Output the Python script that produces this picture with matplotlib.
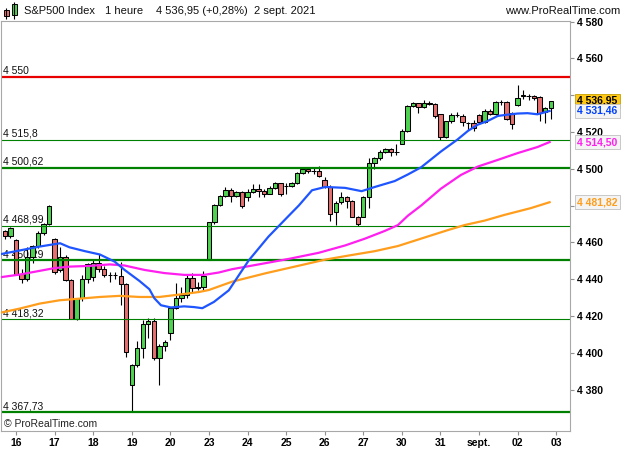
import matplotlib
matplotlib.use("Agg")
import matplotlib.pyplot as plt
from matplotlib.patches import Rectangle
import matplotlib.transforms as mtransforms
import numpy as np

plt.rcParams['font.family'] = ['Liberation Sans', 'DejaVu Sans']

# hourly candles, 13 Aug (last 2 bars) -> 2 Sept 2021, 7 bars a day
opens = [4466.3, 4463.4,
         4461.5, 4443.0, 4440.0, 4452.0, 4457.8, 4465.0, 4470.0,
         4461.8, 4445.0, 4452.0, 4439.3, 4418.5, 4429.5, 4439.8,
         4441.0, 4449.0, 4445.5, 4442.3, 4442.0, 4441.7, 4437.2,
         4382.4, 4393.5, 4402.7, 4415.8, 4417.2, 4397.3, 4403.9,
         4410.6, 4424.2, 4429.6, 4431.4, 4440.4, 4435.0, 4435.5,
         4450.3, 4470.8, 4480.2, 4485.1, 4488.7, 4485.1, 4487.4,
         4484.4, 4487.4, 4489.2, 4488.0, 4486.5, 4489.8, 4492.0,
         4490.5, 4490.8, 4492.0, 4497.7, 4499.9, 4498.5, 4498.6,
         4493.8, 4490.1, 4476.4, 4481.9, 4484.4, 4482.2, 4474.0,
         4473.6, 4484.6, 4503.0, 4505.8, 4509.1, 4510.9, 4509.1,
         4513.7, 4520.7, 4534.2, 4535.7, 4533.5, 4536.0, 4535.3,
         4529.6, 4517.2, 4525.7, 4529.4, 4528.8, 4525.0, 4524.8,
         4529.0, 4525.5, 4531.6, 4529.6, 4536.2, 4536.4, 4530.5,
         4534.5, 4539.6, 4539.6, 4539.6, 4539.0, 4531.1, 4532.9]
highs = [4466.8, 4468.2,
         4462.0, 4445.5, 4457.2, 4458.5, 4466.0, 4470.5, 4480.3,
         4462.1, 4457.6, 4453.0, 4440.0, 4430.0, 4442.0, 4449.0,
         4451.0, 4453.5, 4447.0, 4444.0, 4444.0, 4449.4, 4438.0,
         4394.0, 4406.6, 4418.0, 4418.8, 4418.6, 4404.5, 4407.0,
         4425.0, 4438.0, 4435.9, 4442.0, 4443.5, 4438.6, 4444.3,
         4471.2, 4480.8, 4485.8, 4489.9, 4489.5, 4487.8, 4488.0,
         4489.0, 4491.6, 4491.6, 4488.8, 4490.5, 4492.8, 4492.3,
         4492.0, 4492.8, 4498.3, 4500.3, 4500.5, 4500.2, 4501.7,
         4495.5, 4491.0, 4482.5, 4487.4, 4485.0, 4483.0, 4474.5,
         4485.0, 4505.8, 4506.5, 4510.0, 4511.5, 4511.2, 4513.3,
         4521.5, 4534.5, 4536.4, 4536.0, 4537.4, 4536.6, 4535.8,
         4530.0, 4526.0, 4530.3, 4530.6, 4529.5, 4525.5, 4526.5,
         4530.0, 4532.5, 4532.5, 4537.0, 4537.1, 4536.8, 4530.8,
         4545.6, 4542.7, 4540.5, 4540.0, 4539.3, 4533.5, 4537.0]
lows = [4462.0, 4462.5,
        4442.0, 4437.7, 4439.0, 4449.0, 4457.0, 4464.0, 4469.5,
        4443.0, 4444.0, 4439.0, 4418.3, 4417.8, 4428.0, 4438.0,
        4439.0, 4444.0, 4441.0, 4438.6, 4440.0, 4426.0, 4397.6,
        4367.73, 4392.0, 4397.0, 4408.0, 4396.0, 4382.6, 4401.0,
        4406.8, 4423.5, 4427.3, 4430.0, 4433.0, 4434.1, 4434.0,
        4450.29, 4469.8, 4479.5, 4484.5, 4482.0, 4484.4, 4478.4,
        4482.3, 4486.8, 4484.7, 4484.4, 4486.0, 4489.2, 4485.0,
        4486.0, 4490.0, 4491.5, 4497.0, 4497.8, 4497.3, 4495.5,
        4489.5, 4471.8, 4469.2, 4481.0, 4478.6, 4473.5, 4468.99,
        4473.5, 4478.6, 4499.9, 4505.0, 4508.5, 4506.8, 4507.3,
        4513.6, 4519.8, 4533.5, 4530.3, 4533.0, 4534.8, 4527.5,
        4515.8, 4516.5, 4525.0, 4528.1, 4523.0, 4521.2, 4520.5,
        4524.5, 4525.0, 4529.0, 4529.0, 4534.7, 4526.5, 4521.8,
        4534.0, 4537.8, 4537.3, 4537.5, 4526.0, 4524.7, 4527.0]
closes = [4463.6, 4467.8,
          4442.8, 4440.0, 4452.0, 4457.8, 4465.0, 4470.0, 4479.7,
          4444.0, 4452.0, 4439.3, 4418.5, 4429.5, 4439.8, 4448.0,
          4449.0, 4445.5, 4442.2, 4442.0, 4442.3, 4437.2, 4400.3,
          4393.2, 4402.7, 4415.8, 4417.2, 4397.3, 4403.9, 4405.8,
          4424.2, 4429.6, 4431.4, 4440.4, 4435.0, 4435.5, 4441.5,
          4470.8, 4480.2, 4485.1, 4488.7, 4485.1, 4487.4, 4479.6,
          4487.4, 4489.2, 4488.0, 4486.5, 4489.8, 4492.0, 4486.2,
          4490.8, 4492.3, 4497.7, 4499.9, 4498.5, 4498.7, 4495.9,
          4490.1, 4475.4, 4481.5, 4484.4, 4482.2, 4474.0, 4470.0,
          4484.6, 4503.0, 4505.8, 4509.1, 4510.9, 4509.1, 4509.3,
          4520.7, 4534.2, 4535.7, 4533.5, 4536.0, 4535.3, 4528.5,
          4517.2, 4525.7, 4529.4, 4529.1, 4525.2, 4524.8, 4522.0,
          4525.5, 4531.6, 4529.6, 4536.2, 4536.4, 4527.0, 4524.1,
          4538.7, 4539.6, 4539.4, 4538.4, 4530.5, 4532.9, 4536.95]

day_labels = ['16', '17', '18', '19', '20', '23', '24', '25', '26', '27',
              '30', '31', 'sept.', '02', '03']
bars_per_day = 7
bars_before_first_day = 2

# moving averages (bar index, value)
ma_blue_x = [-0.9, 2.7, 6.3, 10.0, 11.7, 14.5, 17.2, 19.9, 21.7, 24.4, 26.2,
             27.1, 28.3, 30.1, 32.5, 34.3, 35.8, 37.9, 40.6, 44.2, 47.8,
             51.5, 53.3, 55.7, 58.1, 61.7, 64.7, 67.1, 70.7, 73.1, 75.5,
             79.1, 82.1, 84.0, 85.8, 87.6, 89.4, 91.2, 93.0, 94.8, 96.6, 98.8]
ma_blue = [4453.5, 4455.6, 4457.7, 4459.5, 4457.3, 4455.2, 4453.4, 4449.5,
           4445.0, 4439.0, 4434.5, 4429.6, 4425.8, 4424.6, 4425.2, 4424.8,
           4424.2, 4427.6, 4433.9, 4450.1, 4463.1, 4474.5, 4480.0, 4488.3,
           4490.1, 4489.6, 4487.8, 4490.1, 4493.3, 4496.9, 4500.8, 4509.4,
           4515.9, 4520.6, 4524.0, 4526.0, 4528.7, 4529.4, 4530.0, 4530.2,
           4529.6, 4531.4]
ma_magenta_x = [-0.9, 2.7, 6.3, 9.0, 11.75, 15.4, 19.0, 21.7, 25.3, 28.9,
                32.5, 36.1, 38.8, 41.2, 47.3, 51.5, 53.3, 56.9, 61.7, 65.3,
                68.9, 71.3, 73.1, 75.5, 79.1, 82.7, 85.8, 89.4, 93.0, 96.6, 98.8]
ma_magenta = [4441.0, 4442.5, 4444.5, 4446.0, 4446.8, 4447.2, 4448.0, 4447.4,
              4445.0, 4443.3, 4442.3, 4442.3, 4443.6, 4445.4, 4448.7, 4451.0,
              4452.1, 4454.3, 4458.3, 4462.0, 4466.2, 4469.4, 4474.5, 4480.0,
              4489.2, 4496.6, 4501.2, 4504.8, 4508.5, 4511.8, 4514.5]
ma_orange_x = [-0.9, 2.7, 6.3, 9.9, 13.6, 17.2, 20.8, 24.4, 28.0, 31.6, 35.2,
               37.0, 41.2, 47.3, 53.3, 58.1, 62.3, 67.1, 71.3, 76.1, 80.3,
               83.4, 87.0, 90.6, 95.4, 98.8]
ma_orange = [4421.7, 4424.0, 4426.7, 4428.5, 4429.4, 4430.3, 4430.9, 4430.3,
             4430.3, 4431.6, 4433.0, 4434.1, 4438.6, 4443.2, 4447.3, 4450.6,
             4452.8, 4455.2, 4458.0, 4462.6, 4466.6, 4469.4, 4471.8, 4474.9,
             4478.6, 4481.8]
ma_values = {'blue': 4531.46, 'magenta': 4514.50, 'orange': 4481.82}

# support / resistance levels
levels = [4550.0, 4515.8, 4500.62, 4468.99, 4450.29, 4418.32, 4367.73]
level_colors = ['#e80000', '#008000', '#008000', '#008000', '#008000', '#008000', '#008000']
level_thick = [True, False, True, False, True, False, True]

last_price = closes[-1]

GREEN = '#4fd24f'
RED = '#e66f6f'
BLUE = '#1f55ff'
MAGENTA = '#ff1fee'
ORANGE = '#ff9d1c'


def fr(v, strip=True):
    s = f"{v:,.2f}"
    if strip:
        s = s.rstrip('0').rstrip('.')
    return s.replace(',', ' ').replace('.', ',')


W, H = 623, 450
fig = plt.figure(figsize=(W / 100, H / 100), dpi=100)
ax = fig.add_axes([1 / W, (H - 431) / H, 569 / W, 410 / H])

o = np.array(opens)
c = np.array(closes)
x = np.arange(len(o))
up = c >= o
ax.vlines(x, lows, highs, color='black', lw=0.8, zorder=2)
ax.bar(x, np.maximum(np.abs(c - o), 0.25), bottom=np.minimum(o, c), width=0.8,
       color=np.where(up, GREEN, RED), edgecolor='black', linewidth=0.75, zorder=2.1)

for lvl, col, thick in zip(levels, level_colors, level_thick):
    ax.axhline(lvl, color=col, lw=1.6 if thick else 0.8, zorder=2.5)
    ax.annotate(fr(lvl), xy=(0.003, lvl), xycoords=('axes fraction', 'data'),
                xytext=(0, 1), textcoords='offset pixels', ha='left', va='bottom',
                fontsize=7.5, color='#111111', zorder=1)

ax.plot(ma_orange_x, ma_orange, color=ORANGE, lw=1.6, zorder=3)
ax.plot(ma_magenta_x, ma_magenta, color=MAGENTA, lw=1.6, zorder=3)
ax.plot(ma_blue_x, ma_blue, color=BLUE, lw=1.6, zorder=3)

ax.text(0.005, 0.017, '\u00a9 ProRealTime.com', transform=ax.transAxes,
        fontsize=7.5, va='center', ha='left', color='#222222')

ax.set_xlim(-0.72, 102.5)
ax.set_ylim(4357.45, 4580.3)

# right price axis
yt = list(range(4380, 4581, 20))
boxed = [last_price] + list(ma_values.values())
ax.yaxis.tick_right()
ax.set_yticks(yt)
ax.set_yticklabels([fr(v) if min(abs(v - b) for b in boxed) > 5 else '' for v in yt],
                   fontsize=7.5, fontweight='bold')
ax.tick_params(axis='y', length=3, color='#909090', pad=2)

xt = [bars_before_first_day + bars_per_day * i for i in range(len(day_labels))]
ax.set_xticks(xt)
ax.set_xticklabels(day_labels, fontsize=7.5, fontweight='bold')
ax.tick_params(axis='x', length=3, color='#909090', pad=2)

for s in ax.spines.values():
    s.set_color('#a8a8a8')
    s.set_linewidth(0.8)

trans = mtransforms.blended_transform_factory(ax.transAxes, ax.transData)
ax.text(1.013, last_price, fr(last_price, False), transform=trans, fontsize=7.5,
        fontweight='bold', color='black', va='center', ha='left', zorder=6, clip_on=False,
        bbox=dict(boxstyle='square,pad=0.2', fc='#ffc814', ec='#c8a000', lw=0.6))
for name, col in [('blue', '#0040ff'), ('magenta', MAGENTA), ('orange', ORANGE)]:
    ax.text(1.013, ma_values[name], fr(ma_values[name], False), transform=trans, fontsize=7.5,
            fontweight='bold', color=col, va='center', ha='left', zorder=6, clip_on=False,
            bbox=dict(boxstyle='square,pad=0.2', fc='#f4f4f4', ec='#c0c0c0', lw=0.6))

# header strip in pixel coords
hdr = fig.add_axes([0, (H - 21) / H, 1, 21 / H])
hdr.set_xlim(0, W)
hdr.set_ylim(21, 0)
hdr.axis('off')
hdr.vlines([6, 14], [8, 2], [19, 19], color='black', lw=0.8)
hdr.add_patch(Rectangle((3.5, 10), 5, 6, fc=RED, ec='black', lw=0.7))
hdr.add_patch(Rectangle((11.5, 4), 5, 11, fc=GREEN, ec='black', lw=0.7))
hdr_font = dict(fontsize=8, va='center', color='#111111')
hdr.text(24, 11.5, 'S&P500 Index', **hdr_font)
hdr.text(105, 11.5, '1 heure', **hdr_font)
hdr.text(156, 11.5, f'{fr(last_price, False)} (+0,28%)', **hdr_font)
hdr.text(254, 11.5, '2 sept. 2021', **hdr_font)
hdr.text(620, 11.5, 'www.ProRealTime.com', ha='right', **hdr_font)

fig.savefig('out.png', dpi=100)
